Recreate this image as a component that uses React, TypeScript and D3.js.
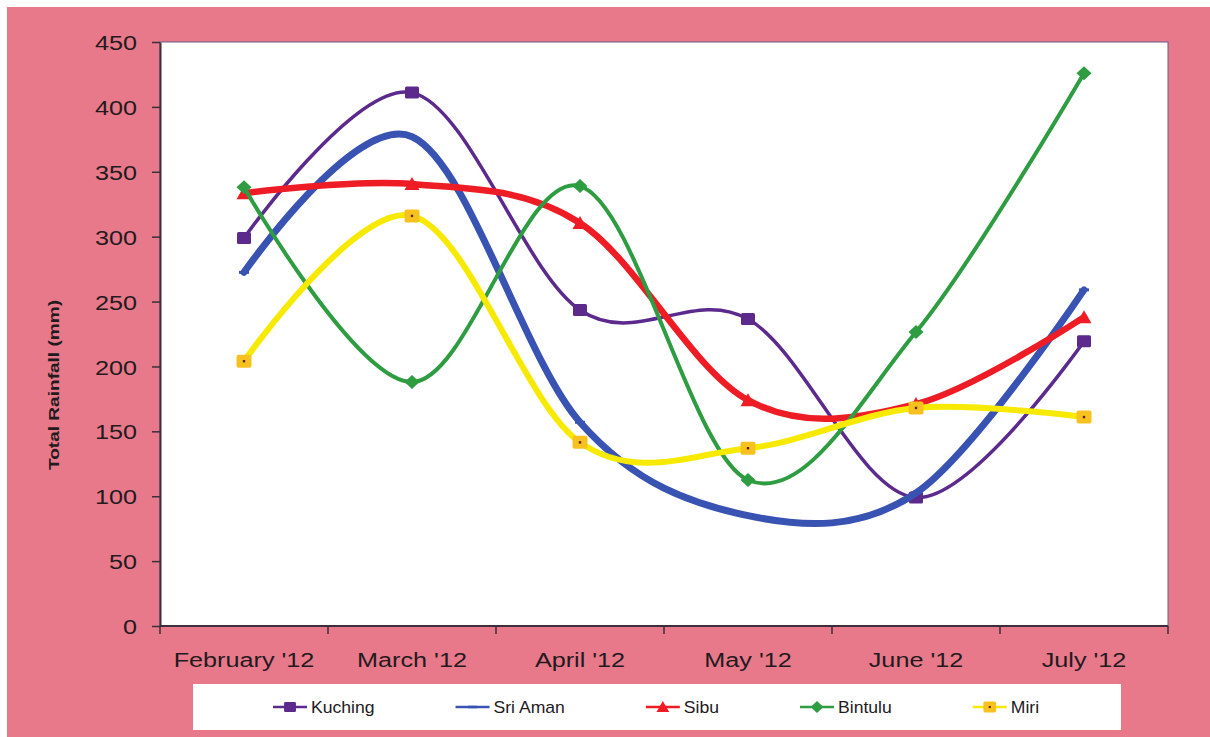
import { useRef, useEffect } from "react";
import * as d3 from "d3";

const months = ["February '12", "March '12", "April '12", "May '12", "June '12", "July '12"];
const yTicks = [0, 50, 100, 150, 200, 250, 300, 350, 400, 450];

const kuching = [299, 411, 243.5, 236.5, 99, 219.5];
const sriAman = [272.5, 377, 157, 85, 102.5, 259];
const sibu = [333.5, 340.5, 310.5, 174, 171, 238];
const bintulu = [338, 188, 339, 112.5, 226.5, 426];
const miri = [204, 316, 141.5, 137, 168, 161];

const series = [
  { name: "Kuching", values: kuching, color: "#5b2a8c", width: 3.5, marker: "square" },
  { name: "Sri Aman", values: sriAman, color: "#3953b3", width: 7, marker: "dash" },
  { name: "Sibu", values: sibu, color: "#ee1c24", width: 6.5, marker: "triangle" },
  { name: "Bintulu", values: bintulu, color: "#2e9c40", width: 4, marker: "diamond" },
  { name: "Miri", values: miri, color: "#f7ea00", width: 6, marker: "miri" },
];

const W = 1210;
const H = 737;
const FONT = "'Liberation Sans', Arial, sans-serif";
const SX = 1.2; // the picture is a bit wider than tall, so text is stretched

function drawMarker(g: any, kind: string, color: string) {
  if (kind === "square") {
    g.append("rect").attr("x", -7).attr("y", -6).attr("width", 14).attr("height", 12)
      .attr("rx", 1.5).attr("fill", color);
  } else if (kind === "dash") {
    g.append("rect").attr("x", -5).attr("y", -1.5).attr("width", 10).attr("height", 3)
      .attr("fill", color);
  } else if (kind === "triangle") {
    g.append("path").attr("d", "M0,-7L7.5,6L-7.5,6Z").attr("fill", color);
  } else if (kind === "diamond") {
    g.append("path").attr("d", "M0,-7L7.5,0L0,7L-7.5,0Z").attr("fill", color);
  } else if (kind === "miri") {
    g.append("rect").attr("x", -7.5).attr("y", -6.5).attr("width", 15).attr("height", 13)
      .attr("rx", 2).attr("fill", "#f7c21f");
    g.append("rect").attr("x", -1.2).attr("y", -1.2).attr("width", 2.4).attr("height", 2.4)
      .attr("fill", "#5a2a10");
  }
}

function RainfallChart() {
  const ref = useRef<SVGSVGElement | null>(null);

  useEffect(() => {
    if (!ref.current) return;
    const svg = d3.select(ref.current).html("");

    const margin = { top: 42, right: 42, bottom: 111, left: 160 };
    const innerWidth = W - margin.left - margin.right;
    const innerHeight = H - margin.top - margin.bottom;

    // background
    svg.append("rect").attr("x", 7).attr("y", 7).attr("width", W - 7).attr("height", H - 7)
      .attr("fill", "#e8798a");

    const g = svg.append("g").attr("transform", `translate(${margin.left},${margin.top})`);

    g.append("rect").attr("width", innerWidth).attr("height", innerHeight)
      .attr("fill", "#fff").attr("stroke", "#6a5a86").attr("stroke-width", 1);

    const x = d3.scalePoint<string>().domain(months).range([0, innerWidth]).padding(0.5);
    const band = d3.scaleBand<string>().domain(months).range([0, innerWidth]);
    const y = d3.scaleLinear().domain([0, 450]).range([innerHeight, 0]);

    // y axis
    const yAxis = g.append("g")
      .call(d3.axisLeft(y).tickValues(yTicks).tickSize(8).tickSizeOuter(0));
    yAxis.select(".domain").attr("stroke", "#3a2f3a").attr("stroke-width", 2);
    yAxis.selectAll(".tick line").attr("stroke", "#3a2f3a").attr("stroke-width", 1.5);
    yAxis.selectAll(".tick text")
      .attr("x", -23 / SX)
      .attr("dy", "0.36em")
      .attr("transform", `scale(${SX},1)`)
      .attr("fill", "#231a1e")
      .style("font-family", FONT)
      .style("font-size", "21px");

    // x axis: ticks on the category boundaries, labels in the middle
    const xAxis = g.append("g").attr("transform", `translate(0,${innerHeight})`);
    xAxis.append("line").attr("x1", 0).attr("x2", innerWidth)
      .attr("stroke", "#3a2f3a").attr("stroke-width", 2);
    const edges = months.map((m) => band(m) as number).concat([innerWidth]);
    xAxis.selectAll(".xt").data(edges).enter().append("line")
      .attr("x1", (d) => d).attr("x2", (d) => d).attr("y1", 0).attr("y2", 8)
      .attr("stroke", "#3a2f3a").attr("stroke-width", 1.5);
    xAxis.selectAll(".xl").data(months).enter().append("text")
      .attr("transform", (d) => `translate(${x(d)},41) scale(${SX},1)`)
      .attr("text-anchor", "middle")
      .attr("fill", "#231a1e")
      .style("font-family", FONT)
      .style("font-size", "21px")
      .text((d) => d);

    // y title
    svg.append("text")
      .attr("transform", "translate(59,385) rotate(-90)")
      .attr("text-anchor", "middle")
      .attr("textLength", 170)
      .attr("lengthAdjust", "spacingAndGlyphs")
      .attr("fill", "#231a1e")
      .style("font-family", FONT)
      .style("font-size", "15px")
      .style("font-weight", "bold")
      .text("Total Rainfall (mm)");

    // lines (excel-style smoothing)
    const line = d3.line<number>()
      .curve(d3.curveCatmullRom.alpha(0))
      .x((d, i) => x(months[i]) as number)
      .y((d) => y(d));

    series.forEach((s) => {
      g.append("path")
        .datum(s.values)
        .attr("fill", "none")
        .attr("stroke", s.color)
        .attr("stroke-width", s.width)
        .attr("stroke-linecap", "round")
        .attr("d", line as any);
      s.values.forEach((v, i) => {
        const mg = g.append("g").attr("transform", `translate(${x(months[i])},${y(v)})`);
        drawMarker(mg, s.marker, s.color);
      });
    });

    // legend
    const legend = svg.append("g");
    legend.append("rect").attr("x", 193).attr("y", 684).attr("width", 928).attr("height", 46)
      .attr("fill", "#fff");
    let lx = 273;
    const ly = 707;
    series.forEach((s) => {
      const item = legend.append("g").attr("transform", `translate(${lx},${ly})`);
      item.append("line").attr("x1", 0).attr("x2", 34)
        .attr("stroke", s.color).attr("stroke-width", 2.5);
      const mg = item.append("g").attr("transform", "translate(17,0) scale(0.85)");
      drawMarker(mg, s.marker, s.color);
      const t = item.append("text")
        .attr("transform", `translate(38,6) scale(1.1,1)`)
        .attr("fill", "#231a1e")
        .style("font-family", FONT)
        .style("font-size", "16px")
        .text(s.name);
      const tw = (t.node() as SVGTextElement).getComputedTextLength() * 1.1;
      lx += 38 + tw + 81;
    });
  }, []);

  return <svg ref={ref} width={W} height={H} style={{ display: "block" }}></svg>;
}

export default function App() {
  return (
    <div style={{ position: "absolute", left: 0, top: 0 }}>
      <RainfallChart />
    </div>
  );
}
